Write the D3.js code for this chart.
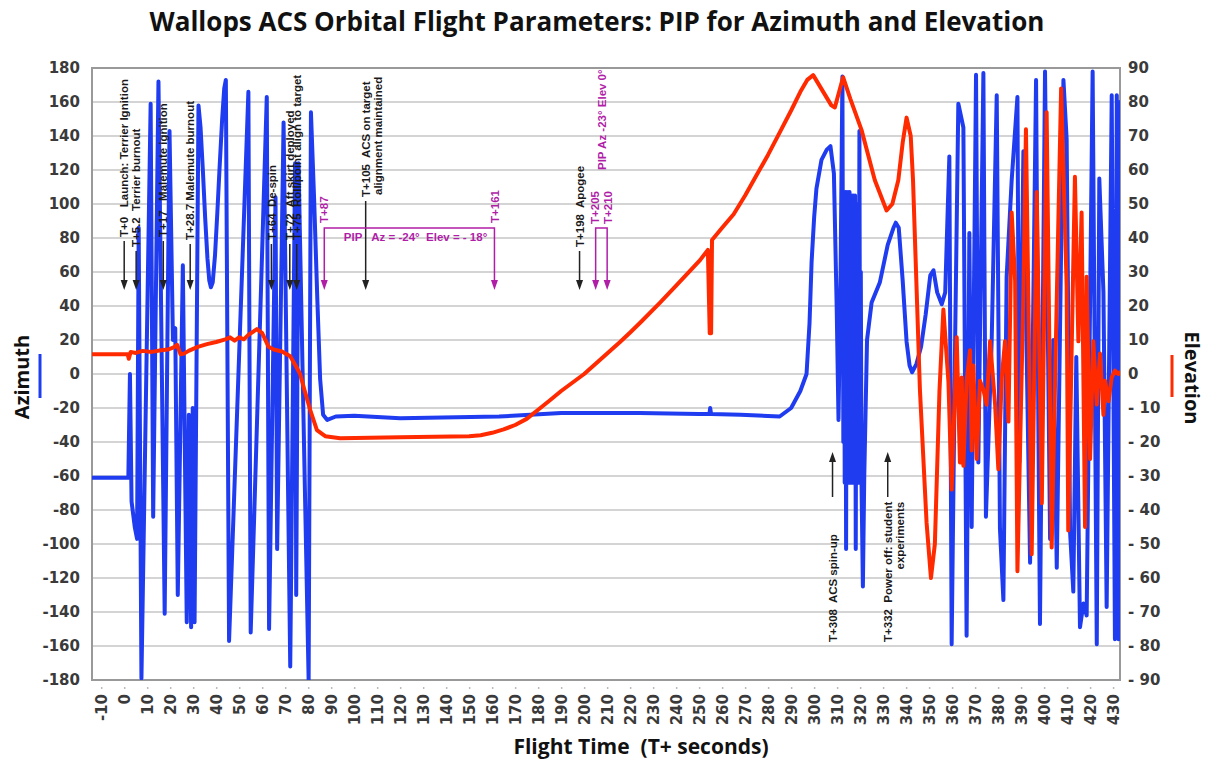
<!DOCTYPE html>
<html>
<head>
<meta charset="utf-8">
<script src="https://cdn.jsdelivr.net/npm/d3@7"></script>
<style>
  body { margin: 0; background: #fff; }
  svg text { white-space: pre; }
</style>
</head>
<body>
<div id="chart"></div>
<script>
// azimuth (deg) vs flight time (s)
const azTime = [-14, 1.8, 2.5, 3.2, 4.6, 5.6, 6.3, 7.5, 11.5, 12.6, 14.9, 17.6, 19.7, 21.2, 22.2, 23.3, 25.5, 27.2, 28.1, 29.1,
  29.8, 30.6, 32.3, 33.2, 34.2, 35.2, 36.2, 37, 37.7, 38.5, 39.5, 40.5, 41.5, 42.6, 43.5, 44.2, 45.6, 54, 55, 62, 63,
  65.8, 66.5, 69.3, 72.2, 74.3, 74.8, 75.8, 80.2, 81.2, 82.6, 84, 85.2, 86.5, 88.3, 92, 100, 120, 163, 190, 224, 250,
  254.5, 254.8, 255.2, 268, 285, 290, 294, 296.7, 298, 298.9, 300, 301, 303.2, 305.5, 307.1, 308.6, 309.8, 310.6, 311.5,
  312.3, 312.7, 313, 313.3, 313.6, 313.9, 314.2, 314.5, 314.8, 315.1, 315.4, 315.7, 316, 316.3, 316.6, 316.9, 317.2,
  317.5, 317.8, 318.1, 318.4, 318.7, 319, 319.3, 319.7, 320, 320.3, 320.6, 321.2,
  321.8, 323, 325, 328.6, 332, 334.5, 335.5, 336.8, 338.5, 340.2, 341.5, 342.6, 344.5, 346.5, 348.5, 350.5, 351.9, 353.5,
  355.5, 357, 358.8, 359.8, 361.3, 362.7, 364.9, 366.3, 367.5, 368.5, 370.4, 371.4, 373.6, 374.7, 377.2, 379.4, 380.8,
  382.3, 383.7, 385.9, 388.4, 389.2, 391, 393.9, 396.5, 397.5, 398.2, 400.4, 402.6, 404, 405.5, 408.4, 409.8, 411.3,
  412.7, 414, 415.6, 417.1, 418.5, 421.1, 422.9, 424, 425.8, 427.2, 429.4, 430.8, 431.6, 432.4, 433]
const azValue = [-61, -61, 0, -75, -90, -97, 86, -179, 159, -84, 172, -141, 143, 20, 27, -130, 64, -146, -24, -149,
  -20, -146, 158, 145, 120, 92, 68, 55, 51, 54, 70, 95, 122, 150, 168, 173, -157, 166, -152, 163, -150,
  104, -103, 148, -172, 124, -130, 124, -180, 154, 102, 43, -3, -24, -27, -25, -24.5, -26, -25, -23, -23, -23.5,
  -23.5, -20, -23.5, -24, -25, -20, -10, 0, 30, 66, 92, 109, 126, 132, 134, 118, 40, -27, 60,
  175, -40, 107, -64, 107, -103, 107, -64, 107, -64, 107, -64, 105, -64, 105, -64, 105,
  -64, 105, -103, 100, -64, 100, -64, 143, -64, 60, -64, -125,
  -60, 20, 42, 54, 76, 86, 89, 86, 55, 19, 5, 1, 6, 16, 35, 58, 61, 48,
  41, 48, 128, -159, 19, 159, 145, -154, 83, -90, 176, -52, 177, -84, 19, 164, -91,
  -133, 57, 114, 163, -52, 131, -111, 173, -28, -147, 178, -97, 20, -114, 173, 138, -93,
  -128, 10, -149, -135, -142, 178, -159, 115, 48, -137, 164, -156, 164, -156, 160]

// elevation (deg) vs flight time (s)
const elTime = [-14, 1.5, 2, 2.8, 5, 8, 12, 16, 19, 21.5, 23, 24.5, 26, 28, 32, 36, 40, 44, 46, 48, 50, 52, 54, 57.7,
  60, 62.8, 65, 68.6, 72.2, 74.5, 76.5, 78.5, 80.9, 83.8, 87.4, 93.9, 120, 150, 155, 160, 165, 170, 175, 180, 185,
  190, 195, 200, 205, 210, 215.6, 220, 225, 233, 240, 245, 250.4, 253.8, 254.6, 255.2, 255.6, 260, 265, 270, 275,
  280, 285, 290, 294, 297, 299.6, 303.5, 307.5, 309, 312.6, 315.7,
  320.6, 326.4, 331.5, 334, 336.6, 338.5, 340.2, 342, 343, 346, 348.9, 350.8, 352.5, 354.5, 356.2, 358.4, 359.8,
  362, 363.4, 364.2, 364.9, 366.3, 367.8, 368.5, 369.2, 370.7, 372.1, 373.6, 375, 376.5, 378.7, 380.1, 381.6, 383,
  384.5, 385.9, 387.4, 388.4, 391, 392.1, 393.9, 394.6, 396.8, 399, 401.1, 403.3, 406.2, 407.4, 409.8, 410.5,
  413.4, 414.9, 416.3, 417.8, 418.5, 420, 421.4, 422.9, 424.3, 425.8, 426.5, 428, 429.4, 430.8, 432.3, 433]
const elValue = [5.8, 5.8, 4.5, 6.5, 6.2, 6.8, 6.5, 7, 7.2, 7.8, 8.6, 5.8, 6, 6.8, 8, 8.8, 9.4, 10.2, 10.8, 9.8, 10.8, 10.2, 11.5, 13.2,
  12, 8, 7.2, 6.6, 5.2, 2.5, 0, -5, -10.6, -16.5, -18.3, -18.9, -18.6, -18.3, -18, -17.3, -16.3, -15, -13.2, -10.5, -7.8,
  -5, -2.5, 0, 3, 6, 9.4, 12.2, 15.5, 21, 26, 29.6, 33.5, 36.5, 12, 12, 39.4, 43, 47, 52.5, 58.5,
  64.5, 71, 77.5, 83, 86.5, 87.9, 83.5, 79, 78.4, 87.3, 81,
  71.8, 57, 48.1, 50, 57, 68, 75.4, 70, 57, -4.6, -43.8, -60, -50, -5, 19, -2.3, -34,
  10.8, -26, -1, -27, -2, 7, -22.5, 2.5, -25, -2, -4.6, -9, 9.6, -9, -28, -1, 9.6,
  -14, 47.5, 27.4, -58, 24, 72, -14, -53, 53.5, -38, 77, -51, 45, 84, 26, -46,
  58, 9.6, 47.5, -45, 28.6, -25, 9.6, -9, 6, -12, -2, -8, -1, 1, 0, 0.5]

const azTicks = [180, 160, 140, 120, 100, 80, 60, 40, 20, 0, -20, -40, -60, -80, -100, -120, -140, -160, -180]
const elTicks = [90, 80, 70, 60, 50, 40, 30, 20, 10, 0, -10, -20, -30, -40, -50, -60, -70, -80, -90]
const elTickLabels = ['90', '80', '70', '60', '50', '40', '30', '20', '10', '0', '- 10', '- 20', '- 30', '- 40',
  '- 50', '- 60', '- 70', '- 80', '- 90']
const timeTicks = [-10, 0, 10, 20, 30, 40, 50, 60, 70, 80, 90, 100, 110, 120, 130, 140, 150, 160, 170, 180, 190, 200,
  210, 220, 230, 240, 250, 260, 270, 280, 290, 300, 310, 320, 330, 340, 350, 360, 370, 380, 390, 400, 410, 420, 430]

// event notes (time, text)
const eventTimes = [0, 5.2, 17, 28.7, 64, 72, 75, 105, 198]
const eventLabels = ['T+0   Launch: Terrier Ignition', 'T+5.2  Terrier burnout', 'T+17   Malemute ignition',
  'T+28.7 Malemute burnout', 'T+64  De-spin', 'T+72  Aft skirt deployed', 'T+75  Roll/point align to target',
  'T+105  ACS on target', 'T+198  Apogee']

if (azTime.length !== azValue.length || elTime.length !== elValue.length) {
  console.error('length mismatch', azTime.length, azValue.length, elTime.length, elValue.length)
}

const w = 1205, h = 763
const pL = 92, pR = 1120, pT = 68, pB = 680
const blue = '#1f3cf0', red = '#ff2a00', magenta = '#b01ea8'

const x = d3.scaleLinear().domain([-14, 433]).range([pL, pR])
const yAz = d3.scaleLinear().domain([-180, 180]).range([pB, pT])
const yEl = d3.scaleLinear().domain([-90, 90]).range([pB, pT])

const svg = d3.select('#chart').append('svg').attr('width', w).attr('height', h)

// title
svg.append('text')
  .attr('x', 597).attr('y', 31)
  .attr('text-anchor', 'middle')
  .style('font', 'bold 26px "Open Sans", sans-serif')
  .style('fill', '#111')
  .text('Wallops ACS Orbital Flight Parameters: PIP for Azimuth and Elevation')

// grid
svg.append('g').selectAll('line')
  .data(azTicks.slice(1, -1))
  .enter().append('line')
  .attr('x1', pL).attr('x2', pR)
  .attr('y1', d => yAz(d)).attr('y2', d => yAz(d))
  .attr('stroke', '#aaaaaa').attr('stroke-width', 1.2)

svg.append('rect')
  .attr('x', pL).attr('y', pT).attr('width', pR - pL).attr('height', pB - pT)
  .attr('fill', 'none').attr('stroke', '#999').attr('stroke-width', 2)

// axes
const tickFont = 'bold 15px "DejaVu Sans", sans-serif'

const yAxis = d3.axisLeft(yAz).tickValues(azTicks).tickSize(0).tickPadding(12).tickFormat(d => String(d))
svg.append('g').attr('transform', 'translate(' + pL + ',0)').call(yAxis)
  .call(g => g.select('.domain').remove())
  .selectAll('text').style('font', tickFont).style('fill', '#3a3a3a')

const y2Axis = d3.axisRight(yEl).tickValues(elTicks).tickSize(0).tickPadding(8)
  .tickFormat((d, i) => elTickLabels[i])
svg.append('g').attr('transform', 'translate(' + pR + ',0)').call(y2Axis)
  .call(g => g.select('.domain').remove())
  .selectAll('text').style('font', tickFont).style('fill', '#3a3a3a')

const xAxis = d3.axisBottom(x).tickValues(timeTicks).tickSize(0).tickFormat(d => String(d))
const gx = svg.append('g').attr('transform', 'translate(0,' + pB + ')').call(xAxis)
gx.select('.domain').remove()
gx.selectAll('.tick').append('line')
  .attr('y1', 7).attr('y2', 9).attr('stroke', '#bbb').attr('stroke-width', 1.5)
gx.selectAll('text')
  .attr('transform', 'rotate(-90)')
  .attr('x', -14).attr('y', 0).attr('dy', '0.36em')
  .attr('text-anchor', 'end')
  .style('font', tickFont).style('fill', '#3a3a3a')

// axis titles
svg.append('text')
  .attr('transform', 'translate(29,377) rotate(-90)')
  .attr('text-anchor', 'middle')
  .style('font', 'bold 20px "Open Sans", sans-serif').style('fill', '#111')
  .text('Azimuth')
svg.append('line').attr('x1', 40).attr('x2', 40).attr('y1', 354).attr('y2', 398)
  .attr('stroke', blue).attr('stroke-width', 3)

svg.append('text')
  .attr('transform', 'translate(1185,378) rotate(90)')
  .attr('text-anchor', 'middle')
  .style('font', 'bold 20px "Open Sans", sans-serif').style('fill', '#111')
  .text('Elevation')
svg.append('line').attr('x1', 1172).attr('x2', 1172).attr('y1', 355).attr('y2', 397)
  .attr('stroke', red).attr('stroke-width', 3)

svg.append('text')
  .attr('x', 641).attr('y', 754)
  .attr('text-anchor', 'middle')
  .style('font', 'bold 21px "Open Sans", sans-serif').style('fill', '#111')
  .text('Flight Time  (T+ seconds)')

// series
svg.append('clipPath').attr('id', 'plot')
  .append('rect').attr('x', pL).attr('y', pT).attr('width', pR - pL).attr('height', pB - pT)

const plot = svg.append('g').attr('clip-path', 'url(#plot)')

const azLine = d3.line().x((d, i) => x(azTime[i])).y(d => yAz(d))
plot.append('path').datum(azValue)
  .attr('d', azLine)
  .attr('fill', 'none').attr('stroke', blue).attr('stroke-width', 4)
  .attr('stroke-linejoin', 'round').attr('stroke-linecap', 'round')

const elLine = d3.line().x((d, i) => x(elTime[i])).y(d => yEl(d))
plot.append('path').datum(elValue)
  .attr('d', elLine)
  .attr('fill', 'none').attr('stroke', red).attr('stroke-width', 4)
  .attr('stroke-linejoin', 'round').attr('stroke-linecap', 'round')

// annotations
const noteFont = 'bold 11.5px "Liberation Sans", Arial, sans-serif'
const tipY = 290

function arrowDown(g, px, fromY, toY, color) {
  g.append('line').attr('x1', px).attr('x2', px).attr('y1', fromY).attr('y2', toY - 7)
    .attr('stroke', color).attr('stroke-width', 1.5)
  g.append('path').attr('d', `M${px - 3.5},${toY - 10}L${px + 3.5},${toY - 10}L${px},${toY}Z`).attr('fill', color)
}
function arrowUp(g, px, fromY, toY, color) {
  g.append('line').attr('x1', px).attr('x2', px).attr('y1', fromY).attr('y2', toY + 7)
    .attr('stroke', color).attr('stroke-width', 1.5)
  g.append('path').attr('d', `M${px - 3.5},${toY + 10}L${px + 3.5},${toY + 10}L${px},${toY}Z`).attr('fill', color)
}
function vtext(g, px, py, str, color, anchor) {
  return g.append('text')
    .attr('transform', `translate(${px},${py}) rotate(-90)`)
    .attr('dy', '0.36em')
    .attr('text-anchor', anchor || 'start')
    .style('font', noteFont).style('fill', color)
    .text(str)
}

const notes = svg.append('g')
const textBase = [237, 247, 237, 240, 240, 240, 240, 197, 247]
eventTimes.forEach((t, i) => {
  const px = x(t)
  vtext(notes, px, textBase[i], eventLabels[i], '#1a1a1a')
  arrowDown(notes, px, textBase[i] + 4, tipY, '#222')
})
vtext(notes, x(105) + 12, 195, 'alignment maintained', '#1a1a1a')

// spin-up and power off
arrowUp(notes, x(308), 497, 452, '#222')
vtext(notes, x(308), 642, 'T+308  ACS spin-up', '#1a1a1a')
arrowUp(notes, x(332), 497, 452, '#222')
const pw = vtext(notes, x(332), 642, 'T+332  Power off: student', '#1a1a1a')
vtext(notes, x(332) + 12, 642 - pw.node().getComputedTextLength(), 'experiments', '#1a1a1a', 'end')

// PIP brackets
const bracketY = 228
function bracket(t1, t2) {
  notes.append('path')
    .attr('d', `M${x(t1)},${tipY - 7}V${bracketY}H${x(t2)}V${tipY - 7}`)
    .attr('fill', 'none').attr('stroke', magenta).attr('stroke-width', 1.5)
  ;[t1, t2].forEach(t => notes.append('path')
    .attr('d', `M${x(t) - 3.5},${tipY - 10}L${x(t) + 3.5},${tipY - 10}L${x(t)},${tipY}Z`).attr('fill', magenta))
}
bracket(87, 161)
bracket(205, 210)
vtext(notes, x(87), 223, 'T+87', magenta)
vtext(notes, x(161), 223, 'T+161', magenta)
vtext(notes, x(205) - 1, 224, 'T+205', magenta)
vtext(notes, x(210) + 1, 224, 'T+210', magenta)
vtext(notes, x(208) - 0.5, 170, 'PIP Az -23\u00b0 Elev 0\u00b0', magenta)
notes.append('text')
  .attr('x', x(95.5)).attr('y', 241)
  .style('font', noteFont).style('fill', magenta)
  .text('PIP   Az = -24\u00b0  Elev = - 18\u00b0')
</script>
</body>
</html>
